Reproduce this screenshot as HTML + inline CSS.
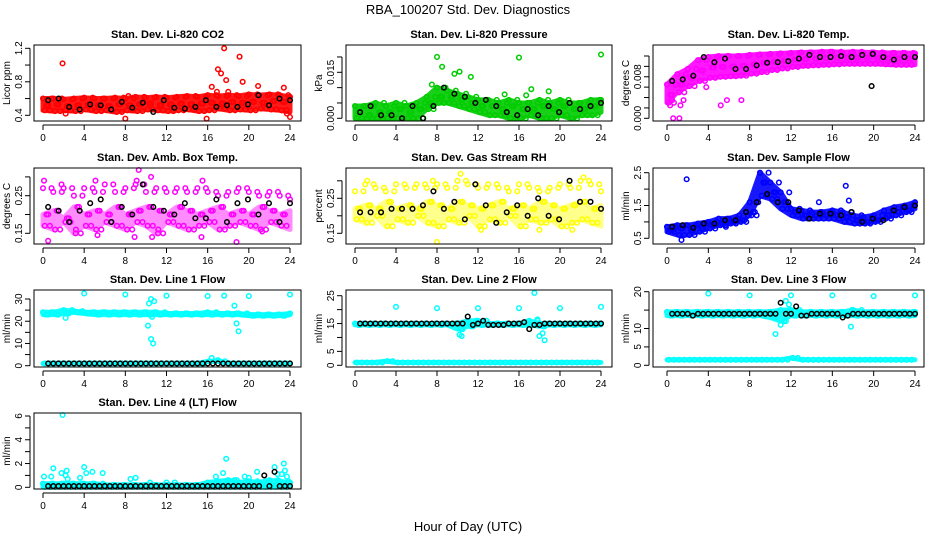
<!DOCTYPE html>
<html><head><meta charset="utf-8"><style>
body{margin:0;background:#fff}
svg{display:block;font-family:"Liberation Sans",sans-serif}
</style></head><body>
<svg id="c" width="936" height="540" viewBox="0 0 936 540">
<text x="468" y="14" font-size="13" text-anchor="middle">RBA_100207  Std. Dev. Diagnostics</text>
<text x="468" y="531" font-size="13" text-anchor="middle">Hour of Day (UTC)</text>
</svg>
<script>
// ---- data ----
const hours = [0,1,2,3,4,5,6,7,8,9,10,11,12,13,14,15,16,17,18,19,20,21,22,23,24];
const xTicks = [0,4,8,12,16,20,24];

const co2Up = [0.6,0.6,0.59,0.6,0.61,0.6,0.6,0.61,0.6,0.62,0.61,0.62,0.61,0.62,0.63,0.62,0.64,0.63,0.64,0.63,0.65,0.64,0.65,0.64,0.62];
const co2Mid = [0.52,0.53,0.51,0.52,0.53,0.52,0.51,0.53,0.52,0.53,0.54,0.52,0.53,0.54,0.53,0.54,0.55,0.54,0.56,0.55,0.56,0.55,0.57,0.56,0.55];
const co2Lo = [0.46,0.45,0.46,0.45,0.47,0.45,0.46,0.44,0.46,0.45,0.47,0.46,0.45,0.46,0.47,0.45,0.46,0.48,0.46,0.47,0.46,0.48,0.47,0.46,0.44];
const co2Out = [[1.9,1.02],[17.6,1.2],[19.1,1.1],[17,0.95],[17.3,0.9],[17.8,0.82],[19.4,0.8],[16.4,0.74],[20.9,0.75],[23.4,0.73],[8,0.36],[15.9,0.36],[24,0.38],[23.7,0.42],[18,0.68],[16.9,0.68],[2.2,0.42],[8.3,0.63]];
const co2Black = [0.58,0.6,0.5,0.47,0.53,0.52,0.47,0.56,0.49,0.55,0.44,0.58,0.49,0.48,0.5,0.58,0.5,0.52,0.5,0.53,0.64,0.52,0.6,0.58];

const presUp = [0.004,0.004,0.005,0.004,0.005,0.004,0.005,0.007,0.01,0.009,0.008,0.007,0.006,0.006,0.005,0.006,0.005,0.005,0.006,0.005,0.006,0.005,0.005,0.006,0.006];
const presMid = [0.002,0.001,0.002,0.002,0.003,0.002,0.003,0.005,0.007,0.007,0.006,0.005,0.004,0.004,0.003,0.004,0.003,0.003,0.004,0.003,0.004,0.003,0.003,0.004,0.004];
const presLo = [0,0,0,0,0,0,0,0.003,0.005,0.005,0.004,0.003,0.002,0.001,0.001,0,0,0.001,0,0,0.001,0,0.001,0.001,0.002];
const presOut = [[8,0.02],[16,0.0198],[24,0.0208],[8.5,0.0168],[9.7,0.0145],[10.2,0.0152],[11.3,0.0135],[7.5,0.011],[17.2,0.0095],[18.9,0.0088],[14.6,0.0078],[16.7,0.0075]];
const presBlack = [0.002,0.004,0.001,0.001,0,0.004,0,0.004,0.01,0.008,0.007,0.005,0.006,0.004,0.002,0.001,0.003,0.001,0.004,0.002,0.005,0.003,0.004,0.005];

const tempUp = [0.0065,0.0085,0.0095,0.0112,0.0118,0.012,0.012,0.012,0.0122,0.0123,0.0124,0.0125,0.0126,0.0127,0.0127,0.0128,0.0128,0.0127,0.0128,0.0127,0.0127,0.0126,0.0126,0.0126,0.0125];
const tempMid = [0.0045,0.0065,0.0078,0.0092,0.0098,0.0099,0.01,0.0101,0.0104,0.0107,0.0109,0.0111,0.0113,0.0114,0.0115,0.0116,0.0117,0.0117,0.0117,0.0117,0.0117,0.0116,0.0115,0.0115,0.0115];
const tempLo = [0.003,0.005,0.0062,0.0072,0.0078,0.008,0.0081,0.0082,0.0086,0.0089,0.0093,0.0096,0.0099,0.0101,0.0102,0.0103,0.0104,0.0105,0.0105,0.0105,0.0105,0.0104,0.0103,0.0103,0.0103];
const tempOut = [[0.6,0],[1.2,0],[0.3,0.0025],[1.3,0.0025],[1.6,0.0035],[5.2,0.0025],[5.8,0.0035],[7.2,0.0035],[0.5,0.0035],[3.8,0.006]];
const tempBlack = [0.0072,0.0075,0.0082,0.0118,0.0108,0.0115,0.0095,0.0095,0.0102,0.0107,0.0108,0.011,0.0115,0.0122,0.0118,0.0118,0.012,0.0118,0.0122,0.0124,0.0118,0.0113,0.0118,0.0118];

const ambUp = [0.27,0.26,0.27,0.25,0.27,0.26,0.28,0.26,0.27,0.28,0.26,0.27,0.26,0.27,0.26,0.27,0.26,0.25,0.26,0.27,0.26,0.25,0.26,0.25,0.24];
const ambMid = [0.2,0.21,0.19,0.22,0.2,0.21,0.2,0.22,0.2,0.21,0.22,0.21,0.2,0.22,0.21,0.2,0.21,0.22,0.2,0.21,0.2,0.22,0.21,0.2,0.21];
const ambLo = [0.17,0.16,0.18,0.15,0.17,0.16,0.18,0.17,0.16,0.18,0.17,0.15,0.18,0.17,0.16,0.17,0.18,0.16,0.17,0.18,0.17,0.16,0.18,0.17,0.16];
const ambOut = [[0.1,0.29],[0.5,0.13],[5.1,0.29],[9.3,0.32],[9.1,0.29],[10.5,0.3],[8.9,0.14],[10.6,0.14],[18.8,0.12],[15.4,0.14],[5.3,0.145],[3.2,0.16],[11.2,0.16],[21.3,0.155],[1.8,0.28],[15.5,0.29]];
const ambBlack = [0.22,0.21,0.18,0.21,0.23,0.24,0.18,0.22,0.2,0.28,0.22,0.21,0.2,0.23,0.19,0.19,0.24,0.18,0.23,0.24,0.2,0.23,0.18,0.23];

const rhUp = [0.27,0.29,0.28,0.27,0.29,0.28,0.29,0.28,0.29,0.28,0.3,0.29,0.28,0.29,0.28,0.27,0.29,0.28,0.27,0.28,0.29,0.28,0.3,0.29,0.27];
const rhMid = [0.22,0.23,0.22,0.24,0.22,0.23,0.22,0.24,0.23,0.22,0.24,0.23,0.22,0.23,0.24,0.22,0.23,0.22,0.24,0.23,0.22,0.23,0.24,0.22,0.23];
const rhLo = [0.19,0.18,0.2,0.17,0.19,0.18,0.2,0.18,0.17,0.19,0.18,0.2,0.17,0.19,0.18,0.2,0.17,0.19,0.18,0.19,0.17,0.18,0.19,0.18,0.17];
const rhOut = [[8,0.12],[10.3,0.32],[22.3,0.31],[12.3,0.16],[18,0.16],[21.2,0.16],[1.2,0.3],[7.6,0.3]];
const rhBlack = [0.21,0.21,0.21,0.22,0.22,0.22,0.23,0.27,0.22,0.24,0.19,0.29,0.23,0.18,0.21,0.23,0.2,0.25,0.2,0.19,0.3,0.24,0.24,0.22];

const flowUp = [0.85,0.9,0.9,0.95,1.0,1.1,1.1,1.2,1.6,2.5,2.2,1.9,1.4,1.35,1.3,1.3,1.35,1.3,1.2,1.15,1.2,1.35,1.45,1.5,1.6];
const flowMid = [0.75,0.8,0.75,0.8,0.9,0.95,1.0,1.05,1.3,2.2,1.9,1.6,1.3,1.2,1.2,1.2,1.2,1.15,1.05,1.0,1.05,1.2,1.3,1.35,1.45];
const flowLo = [0.7,0.6,0.6,0.7,0.8,0.9,0.95,1.0,1.2,1.8,1.7,1.4,1.2,1.1,1.1,1.1,1.1,1.0,0.95,0.95,1.0,1.1,1.2,1.3,1.4];
const flowOut = [[1.9,2.3],[17.3,2.1],[17.6,1.65],[14.7,1.6],[5.7,0.85],[1.4,0.45]];
const flowBlack = [0.85,0.9,0.82,0.95,0.95,1.05,1.05,1.3,1.6,1.85,1.6,1.6,1.35,1.1,1.25,1.25,1.2,1.3,1.0,1.1,1.05,1.35,1.45,1.5];

const l1Up = [24,24,25,24.5,24,24,24,24,24,24,24,24,23.5,23.5,23.5,23.5,24,23.5,23.5,23.5,23,23,23,23,23.5];
const l1Mid = [23,23,23.5,24,23.5,23,23,23,23,23,23,23,23,23,23,23,23,23,23,23,22.5,22.5,22.5,22.5,23];
const l1Lo = [1,1,1,1,1,1,1,1,1,1,1,1,1,1,1,1,2,2,1,1,1,1,1,1,1];
const l1Out = [[4,32.5],[8,32],[12,31.5],[16,31.3],[17.6,31.5],[20,31.3],[24,32],[10.5,30],[10.8,29],[10.3,28],[10.2,18],[10.5,12],[10.7,10],[18.6,27],[18.8,19],[19,15.5],[2.2,21.5],[16.4,3.5],[17,2.5],[10.6,22]];
const l1Black = [1,1,1,1,1,1,1,1,1,1,1,1,1,1,1,1,1,1,1,1,1,1,1,1,1,1,1,1,1,1,1,1,1,1,1,1,1,1,1,1,1,1,1,1,1,1,1,1];

const l2Up = [15,15,15,15,15,15,15,15,15,15,15,16,16,15,15,15,15,16,15,15,15,15,15,15,15];
const l2Mid = [14.5,14.5,14.5,14.5,14.5,14.5,14.5,14.5,14.5,14.5,13,14,14.5,14.5,14.5,14.5,14.5,14.5,14,14.5,14.5,14.5,14.5,14.5,14.5];
const l2Lo = [1,1,1,1.5,1,1,1,1,1,1,1,1,1,1,1,1,1,1,1,1,1,1,1,1,1];
const l2Out = [[4,21],[8,20.5],[12,20.5],[16,20.5],[20,20.5],[24,21],[17.5,26],[10.2,11],[10.4,10.5],[18,10.5],[18.5,9],[18.3,11.5],[12.8,16],[17.8,16.5]];
const l2Black = [15,15,15,15,15,15,15,15,15,15,15,15,15,15,15,15,15,15,15,15,15,17.5,14.5,15,16,14.5,14.5,14.5,14.5,15,15,15,15.5,13,14.5,14.5,15,15,15,15,15,15,15,15,15,15,15,15];

const l3Up = [14.5,14.5,14.5,14.5,14.5,14.5,14.5,14.5,14.5,14.5,14.5,15,15,14.5,14.5,14.5,14.5,14.5,15,14.5,14.5,14.5,14.5,14.5,14.5];
const l3Mid = [13.5,13.5,13.5,13.5,13.5,13.5,13.5,13.5,13.5,13.5,13,12,13.5,13.5,13.5,13.5,13.5,13.5,13.5,13.5,13.5,13.5,13.5,13.5,13.5];
const l3Lo = [1.5,1.5,1.5,1.5,1.5,1.5,1.5,1.5,1.5,1.5,1.5,1.5,2,1.5,1.5,1.5,1.5,1.5,1.5,1.5,1.5,1.5,1.5,1.5,1.5];
const l3Out = [[4,19.5],[8,19],[12,19],[16,19],[20,18.8],[24,19],[10.5,8.5],[11,11],[11.5,17.5],[11.8,16.5],[17.8,10.5],[17.9,15]];
const l3Black = [14,14,14,14,13.5,14,14,14,14,14,14,14,14,14,14,14,14,14,14,14,14,17,14,14,16,13.5,13.5,14,14,14,14,14,14,13,13.5,14,14,14,14,14,14,14,14,14,14,14,14,14];

const l4Up = [0.3,0.3,0.3,0.3,0.3,0.3,0.2,0.2,0.2,0.2,0.2,0.2,0.2,0.2,0.2,0.2,0.4,0.5,0.6,0.4,0.5,0.4,0.6,0.5,0.4];
const l4Mid = [0.1,0.1,0.1,0.1,0.1,0.1,0.1,0.1,0.1,0.1,0.1,0.1,0.1,0.1,0.1,0.1,0.1,0.1,0.1,0.1,0.1,0.1,0.1,0.1,0.1];
const l4Lo = [0,0,0,0,0,0,0,0,0,0,0,0,0,0,0,0,0,0,0,0,0,0,0,0,0];
const l4Out = [[1.9,6.1],[1,1.6],[0.1,0.9],[0.8,0.9],[1.8,1.2],[2.3,1.4],[2.2,1],[2.4,0.7],[4,1.7],[4.2,1.2],[4.8,1.3],[5.8,1.2],[3.6,0.8],[8.5,0.7],[9,0.8],[10.4,0.4],[12,0.4],[12.8,0.4],[16.8,0.9],[17.5,1.2],[17.8,2.4],[18.6,0.6],[19.6,0.9],[20,0.8],[20.8,1.3],[22.5,1.7],[22.8,1.1],[23.4,2],[23.5,1.4],[23.7,0.9],[23.2,1.1]];
const l4Black = [0.1,0.1,0.1,0.1,0.1,0.1,0.1,0.1,0.1,0.1,0.1,0.1,0.1,0.1,0.1,0.1,0.1,0.1,0.1,0.1,0.1,0.1,0.1,0.1,0.1,0.1,0.1,0.1,0.1,0.1,0.1,0.1,0.1,0.1,0.1,0.1,0.1,0.1,0.1,0.1,0.1,0.1,1,0.1,1.3,0.1,0.1,0.1];

// ---- layout ----
const NS = 'http://www.w3.org/2000/svg';
const svg = document.getElementById('c');
const cols = [{l:34,r:301,x0:43,x24:290},{l:346,r:612,x0:355,x24:601},{l:653,r:924,x0:667,x24:915}];
const rows = [{t:45,b:121},{t:168,b:244},{t:290,b:367},{t:413,b:489}];

function mk(tag, attrs, parent){
  const e = document.createElementNS(NS, tag);
  for (const k in attrs) e.setAttribute(k, attrs[k]);
  (parent||svg).appendChild(e);
  return e;
}

const panels = [
  {name:'co2', title:'Stan. Dev. Li-820 CO2', ylab:'Licor ppm', c:0, r:0, color:'#ff0000', yA:[0.4,115.3], yB:[1.2,48.3], ticks:[0.4,0.6,0.8,1.0,1.2], labels:[0.4,0.8,1.2], fmt:1, up:co2Up, mid:co2Mid, lo:co2Lo, out:co2Out, blk:co2Black, band:0.9},
  {name:'pressure', title:'Stan. Dev. Li-820 Pressure', ylab:'kPa', c:1, r:0, color:'#00cc00', yA:[0,118.3], yB:[0.015,72.3], ticks:[0,0.005,0.01,0.015,0.02], labels:[0,0.015], fmt:3, up:presUp, mid:presMid, lo:presLo, out:presOut, blk:presBlack, band:0.9},
  {name:'temp', title:'Stan. Dev. Li-820 Temp.', ylab:'degrees C', c:2, r:0, color:'#ff00ff', yA:[0,118.3], yB:[0.012,56], ticks:[0,0.002,0.004,0.006,0.008,0.01,0.012], labels:[0,0.008], fmt:3, up:tempUp, mid:tempMid, lo:tempLo, out:tempOut, blk:tempBlack, blkOut:[[19.8,0.0062]], band:0.9},
  {name:'amb-temp', title:'Stan. Dev. Amb. Box Temp.', ylab:'degrees C', c:0, r:1, color:'#ff00ff', yA:[0.15,233.3], yB:[0.25,195.7], ticks:[0.15,0.2,0.25,0.3], labels:[0.15,0.25], fmt:2, up:ambUp, mid:ambMid, lo:ambLo, out:ambOut, blk:ambBlack, band:0.45},
  {name:'rh', title:'Stan. Dev. Gas Stream RH', ylab:'percent', c:1, r:1, color:'#ffff00', yA:[0.15,233.3], yB:[0.25,198.3], ticks:[0.15,0.2,0.25,0.3], labels:[0.15,0.25], fmt:2, up:rhUp, mid:rhMid, lo:rhLo, out:rhOut, blk:rhBlack, band:0.45},
  {name:'sample-flow', title:'Stan. Dev. Sample Flow', ylab:'ml/min', c:2, r:1, color:'#0000ff', yA:[0.5,238.3], yB:[2.5,172.7], ticks:[0.5,1,1.5,2,2.5], labels:[0.5,1.5,2.5], fmt:1, up:flowUp, mid:flowMid, lo:flowLo, out:flowOut, blk:flowBlack, band:0.9},
  {name:'line1', title:'Stan. Dev. Line 1 Flow', ylab:'ml/min', c:0, r:2, color:'#00ffff', yA:[0,365.7], yB:[30,299], ticks:[0,5,10,15,20,25,30], labels:[0,10,20,30], fmt:0, up:l1Up, mid:l1Mid, lo:l1Lo, out:l1Out, blk:l1Black, split:true, band:0.9},
  {name:'line2', title:'Stan. Dev. Line 2 Flow', ylab:'ml/min', c:1, r:2, color:'#00ffff', yA:[0,365.3], yB:[25,295.7], ticks:[0,5,10,15,20,25], labels:[0,5,15,25], fmt:0, up:l2Up, mid:l2Mid, lo:l2Lo, out:l2Out, blk:l2Black, split:true, band:0.9},
  {name:'line3', title:'Stan. Dev. Line 3 Flow', ylab:'ml/min', c:2, r:2, color:'#00ffff', yA:[0,365.3], yB:[20,291.7], ticks:[0,5,10,15,20], labels:[0,5,10,20], fmt:0, up:l3Up, mid:l3Mid, lo:l3Lo, out:l3Out, blk:l3Black, split:true, band:0.9},
  {name:'line4', title:'Stan. Dev. Line 4 (LT) Flow', ylab:'ml/min', c:0, r:3, color:'#00ffff', yA:[0,487.3], yB:[6,416], ticks:[0,1,2,3,4,5,6], labels:[0,2,4,6], fmt:0, up:l4Up, mid:l4Mid, lo:l4Lo, out:l4Out, blk:l4Black, band:0.9}
];

for (const p of panels){
  const C = cols[p.c], R = rows[p.r];
  const g = mk('g', {});
  
  
  const xs = h => C.x0 + (C.x24 - C.x0) * h / 24;
  const ys = v => p.yA[1] + (p.yB[1] - p.yA[1]) * (v - p.yA[0]) / (p.yB[0] - p.yA[0]);
  const cy = v => Math.max(R.t + 2, Math.min(R.b - 2, ys(v)));

  const t = mk('text', {x:(C.l + C.r)/2, y:R.t - 7, 'font-size':11, 'font-weight':'bold', 'text-anchor':'middle'}, g);
  t.textContent = p.title;
  
  

  const yl = mk('text', {x:0, y:0, 'font-size':10, 'text-anchor':'middle', transform:`translate(${C.l - 24},${(R.t + R.b)/2}) rotate(-90)`}, g);
  yl.textContent = p.ylab;
  
  

  const bands = p.split ? [[p.mid, p.up],[p.lo, p.lo]] : (p.band < 0.5 ? [[p.lo, p.mid]] : [[p.lo, p.up]]);
  bands.forEach(([lo, up]) => {
    let d = '';
    hours.forEach((h, i) => { d += (i ? 'L' : 'M') + xs(h).toFixed(1) + ',' + cy(up[i]).toFixed(1); });
    for (let i = hours.length - 1; i >= 0; i--) d += 'L' + xs(hours[i]).toFixed(1) + ',' + cy(lo[i]).toFixed(1);
    d += 'Z';
    const band = mk('path', {d:d, fill:p.color, stroke:p.color, 'stroke-width':5, 'stroke-linejoin':'round', opacity:p.band}, g);
    
    
  });

  const pts = mk('g', {fill:'none', 'stroke-width':1.5}, g);
  
  
  const dot = (h, v, col) => {
    const c = mk('circle', {cx:xs(h), cy:cy(v), r:2.3, stroke:col}, pts);
    
    
  };
  hours.forEach((h, i) => {
    dot(h, p.up[i], p.color);
    if (h + 0.33 <= 24) dot(h + 0.33, p.mid[i], p.color);
    if (h + 0.67 <= 24) dot(h + 0.67, p.lo[i], p.color);
    if (h + 0.5 <= 24) dot(h + 0.5, p.mid[i], p.color);
    if (h + 0.17 <= 24) dot(h + 0.17, p.lo[i], p.color);
    if (h + 0.83 <= 24) dot(h + 0.83, p.up[i], p.color);
  });
  p.out.forEach(o => dot(o[0], o[1], p.color));
  const n = p.blk.length;
  p.blk.forEach((v, i) => dot(0.5 + i * 23.5 / (n - 1), v, '#000'));
  (p.blkOut || []).forEach(o => dot(o[0], o[1], '#000'));

  const box = mk('rect', {x:C.l, y:R.t, width:C.r - C.l, height:R.b - R.t, fill:'none', stroke:'#000', 'stroke-width':1}, g);
  
  

  const xa = mk('g', {}, g);
  
  
  mk('line', {x1:xs(0), x2:xs(24), y1:R.b + 4, y2:R.b + 4, stroke:'#000'}, xa);
  xTicks.forEach(h => {
    mk('line', {x1:xs(h), x2:xs(h), y1:R.b + 4, y2:R.b + 9, stroke:'#000'}, xa);
    const tl = mk('text', {x:xs(h), y:R.b + 20, 'font-size':10, 'text-anchor':'middle'}, xa);
    tl.textContent = h;
  });

  const ya = mk('g', {}, g);
  
  
  const tv = p.ticks;
  mk('line', {x1:C.l - 4, x2:C.l - 4, y1:ys(tv[0]), y2:ys(tv[tv.length - 1]), stroke:'#000'}, ya);
  tv.forEach(v => mk('line', {x1:C.l - 9, x2:C.l - 4, y1:ys(v), y2:ys(v), stroke:'#000'}, ya));
  p.labels.forEach(v => {
    const tl = mk('text', {x:0, y:0, 'font-size':10, 'text-anchor':'middle', transform:`translate(${C.l - 12},${ys(v)}) rotate(-90)`}, ya);
    tl.textContent = v.toFixed(p.fmt);
  });
}
</script>
</body></html>
